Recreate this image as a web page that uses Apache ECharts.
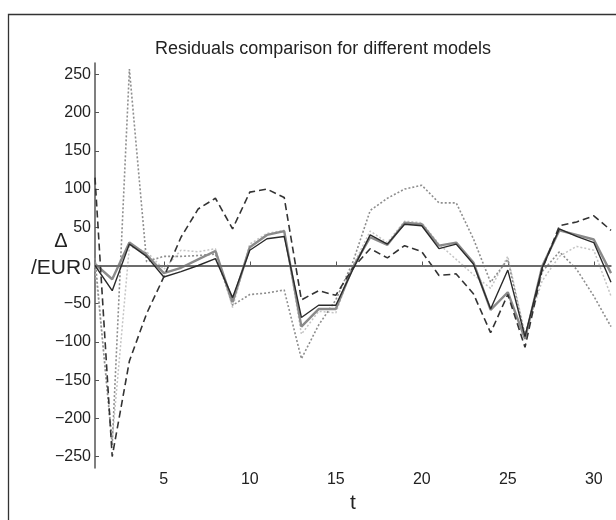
<!DOCTYPE html>
<html>
<head>
<meta charset="utf-8">
<title>Residuals comparison for different models</title>
<script src="https://cdn.jsdelivr.net/npm/echarts@6/dist/echarts.min.js"></script>
<style>
html, body {margin: 0; padding: 0; background: #fff;}
#main {width: 616px; height: 520px;}
</style>
</head>
<body>
<div id="main"></div>
<script>
var timeSteps   = [1, 2, 3, 4, 5, 6, 7, 8, 9, 10, 11, 12, 13, 14, 15, 16, 17, 18, 19, 20, 21, 22, 23, 24, 25, 26, 27, 28, 29, 30, 31];
var xTickValues = [5, 10, 15, 20, 25, 30];
var yTickValues = [-250, -200, -150, -100, -50, 0, 50, 100, 150, 200, 250];

var solidDark  = [0, -33, 28, 12, -15, -8, 0, 9, -42, 20, 35, 38, -68, -52, -52, -5, 40, 28, 54, 52, 22, 28, 2, -57, -6, -93, -3, 48, 38, 30, -22];
var solidGrey  = [2, -18, 30, 14, -10, -3, 8, 19, -48, 24, 40, 45, -80, -57, -57, -2, 37, 27, 56, 54, 26, 30, 4, -58, -35, -96, -1, 46, 40, 34, -10];
var dashedLine = [115, -250, -125, -63, -15, 37, 74, 88, 48, 96, 100, 89, -45, -33, -39, -3, 22, 10, 26, 18, -13, -11, -37, -88, -38, -107, -5, 52, 57, 65, 46];
var dottedLine = [10, -235, 257, 5, 12, 12, 13, 15, -52, -38, -36, -32, -122, -78, -45, 5, 72, 88, 100, 105, 82, 82, 35, -22, 8, -92, -8, 18, -5, -40, -80];
var lightLine  = [0, -228, 25, 18, -5, 20, 18, 22, -55, 28, 42, 46, -90, -60, -62, 0, 45, 30, 58, 56, 28, 8, -12, -30, 12, -90, -20, 12, 25, 20, -40];

/**
 * Pair time steps with values.
 *
 * @param  array $values
 * @access public
 * @return array
 */
function toPoints(values)
{
    return timeSteps.map(function(t, i){ return [t, values[i]]; });
}

/**
 * Build one line series.
 */
function lineSeries(name, values, color, width, type, z)
{
    return {
        name: name,
        type: 'line',
        data: toPoints(values),
        symbol: 'none',
        silent: true,
        z: z,
        lineStyle: {color: color, width: width, type: type}
    };
}

var fontFamily = '"Liberation Sans", Arial, sans-serif';

var series = [
    lineSeries('light',  lightLine,  '#c4c4c4', 1.5, [2, 2], 1),
    lineSeries('dotted', dottedLine, '#8e8e8e', 1.6, [2, 2], 2),
    lineSeries('grey',   solidGrey,  '#8a8a8a', 2.4, 'solid', 3),
    lineSeries('dashed', dashedLine, '#333',    1.6, [7, 4], 4),
    lineSeries('dark',   solidDark,  '#2a2a2a', 1.4, 'solid', 5)
];

/* Zero reference line. */
series[0].markLine = {
    silent: true,
    symbol: 'none',
    label: {show: false},
    lineStyle: {color: '#666', width: 1.6, type: 'solid'},
    data: [{yAxis: 0}]
};

var chart  = echarts.init(document.getElementById('main'));
var option = {
    animation: false,
    backgroundColor: '#fff',
    title: {
        text: 'Residuals comparison for different models',
        left: 318,
        top: 35,
        textAlign: 'center',
        textStyle: {color: '#222', fontSize: 18, fontWeight: 'normal', fontFamily: fontFamily}
    },
    grid: {left: 95, right: 5, top: 63, bottom: 52},
    xAxis: {
        type: 'value',
        min: 1,
        max: 31,
        name: 't',
        nameLocation: 'middle',
        nameGap: 18,
        nameTextStyle: {color: '#222', fontSize: 21, fontFamily: fontFamily},
        axisLine: {lineStyle: {color: '#555', width: 1.5}},
        axisTick: {show: true, inside: true, length: 4, customValues: xTickValues, lineStyle: {color: '#555'}},
        axisLabel: {customValues: xTickValues, margin: 4, color: '#222', fontSize: 16, fontFamily: fontFamily},
        splitLine: {show: false}
    },
    yAxis: {
        type: 'value',
        min: -265,
        max: 265,
        axisLine: {show: true, lineStyle: {color: '#555', width: 1.5}},
        axisTick: {show: true, inside: true, length: 4, customValues: yTickValues, lineStyle: {color: '#555'}},
        axisLabel: {
            customValues: yTickValues,
            margin: 4,
            color: '#222',
            fontSize: 16,
            fontFamily: fontFamily,
            formatter: function(v){ return String(v).replace('-', '\u2212'); }
        },
        splitLine: {show: false}
    },
    graphic: [
        {type: 'rect', silent: true, shape: {x: 8.5, y: 14.5, width: 700, height: 600}, style: {fill: 'none', stroke: '#333', lineWidth: 1.3}},
        {type: 'text', silent: true, x: 61, y: 241, style: {text: '\u0394', fill: '#222', fontSize: 20, fontFamily: fontFamily, align: 'center', verticalAlign: 'middle'}},
        {type: 'text', silent: true, x: 56, y: 268, style: {text: '/EUR', fill: '#222', fontSize: 21, fontFamily: fontFamily, align: 'center', verticalAlign: 'middle'}}
    ],
    series: series
};
chart.setOption(option);
</script>
</body>
</html>
